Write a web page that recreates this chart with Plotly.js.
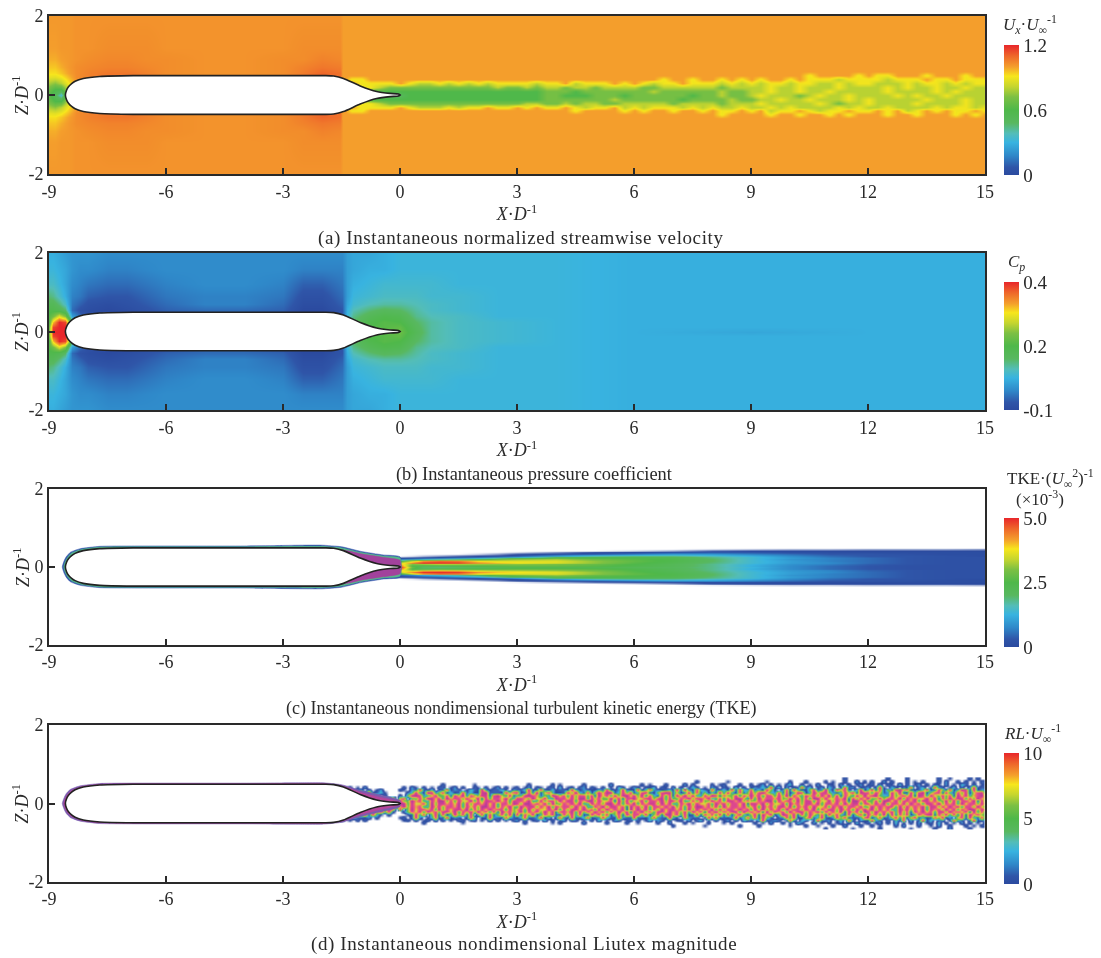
<!DOCTYPE html>
<html><head><meta charset="utf-8">
<script src="https://cdn.plot.ly/plotly-3.0.1.min.js"></script>
<style>html,body{margin:0;padding:0;background:#fff}#plot{width:1101px;height:958px;filter:blur(0.45px)}</style>
</head><body><div id="plot"></div>
<script>
// ---------- ticks ----------
const xTickVals=[-9,-6,-3,0,3,6,9,12,15];
const xTickLabels=['-9','-6','-3','0','3','6','9','12','15'];
const yTickVals=[-2,0,2];
const yTickLabels=['-2','0','2'];
const captions=['(a) Instantaneous normalized streamwise velocity','(b) Instantaneous pressure coefficient','(c) Instantaneous nondimensional turbulent kinetic energy (TKE)','(d) Instantaneous nondimensional Liutex magnitude'];

// ---------- hull outline (upper half, nose to tail) ----------
const hullX=[-8.58,-8.55,-8.5,-8.42,-8.33,-8.12,-7.7,-6.84,-4,-1.9,-1.7,-1.45,-1.02,-0.6,-0.25,-0.04,0];
const hullZ=[0,0.12,0.21,0.29,0.35,0.42,0.47,0.49,0.49,0.49,0.48,0.42,0.23,0.09,0.04,0.025,0];

// ---------- panel (a): Ux/Uinf, outer field ----------
const aX=[-9,-8.85,-8.7,-8.5,-8.3,-8,-7.5,-7,-6.5,-6,-5,-4,-3,-2.5,-2,-1.55,-1.45,-1,0,3,15];
const aZ=[2,1.2,0.9,0.7,0.55,0.45,0.3,0.15,0];
const aUpper=[
[1.01,1.01,1.01,1.01,1.02,1.02,1.02,1.02,1.02,1.02,1.02,1.02,1.02,1.02,1.02,1.02,1.00,1.00,1.00,1.00,1.00],
[1.00,1.00,1.01,1.01,1.02,1.02,1.03,1.03,1.03,1.02,1.02,1.02,1.02,1.03,1.03,1.03,1.00,1.00,1.00,1.00,1.00],
[0.98,0.98,1.00,1.01,1.02,1.03,1.04,1.04,1.03,1.03,1.02,1.02,1.03,1.03,1.05,1.04,1.00,1.00,1.00,1.00,1.00],
[0.95,0.95,0.98,1.01,1.03,1.04,1.05,1.05,1.04,1.03,1.02,1.02,1.03,1.05,1.07,1.06,1.00,1.00,1.00,1.00,1.00],
[0.92,0.92,0.95,1.00,1.03,1.05,1.07,1.07,1.05,1.03,1.02,1.02,1.03,1.06,1.10,1.08,1.00,1.00,1.00,1.00,1.00],
[0.88,0.87,0.90,0.97,1.03,1.05,1.07,1.07,1.05,1.03,1.02,1.02,1.03,1.06,1.10,1.08,1.00,1.00,1.00,1.00,1.00],
[0.78,0.74,0.80,0.92,1.00,1.04,1.05,1.05,1.04,1.03,1.02,1.02,1.03,1.05,1.08,1.06,1.00,1.00,1.00,1.00,1.00],
[0.68,0.60,0.60,0.85,1.00,1.02,1.02,1.02,1.02,1.02,1.02,1.02,1.02,1.02,1.02,1.02,1.00,1.00,1.00,1.00,1.00],
[0.62,0.52,0.35,0.80,1.00,1.02,1.02,1.02,1.02,1.02,1.02,1.02,1.02,1.02,1.02,1.02,1.00,1.00,1.00,1.00,1.00]];

// panel (a): wake, each character = Ux/Uinf x10 (a = 1.0); groups = first 6 columns, then one per X unit
const wakeAX=[-1.4,-1.25,-1,-0.75,-0.5,-0.25,0,0.25,0.5,0.75,1,1.25,1.5,1.75,2,2.25,2.5,2.75,3,3.25,3.5,3.75,4,4.25,4.5,4.75,5,5.25,5.5,5.75,6,6.25,6.5,6.75,7,7.25,7.5,7.75,8,8.25,8.5,8.75,9,9.25,9.5,9.75,10,10.25,10.5,10.75,11,11.25,11.5,11.75,12,12.25,12.5,12.75,13,13.25,13.5,13.75,14,14.25,14.5,14.75,15];
const wakeAZ=[0.6,0.5,0.4,0.3,0.2,0.1,0,-0.1,-0.2,-0.3,-0.4,-0.5,-0.6];
const wakeARows=[
"aaaaaa aaaa aaaa aaaa aaaa aaaa aaaa aaaa aaaa aaaa aaaa aaaa aaaa aaaa aaaa aaaa a",
"aaaaaa aaaa aaaa aaaa aaaa aaaa aaaa aaaa aaaa aaaa aaaa aa9a aaa9 a99a aa9a aa9a a",
"a99aaa aaaa aaaa aaaa aaaa aaaa aaaa aaa9 aa9a a9a9 a9aa 9a99 9899 9989 99a9 9a99 9",
"aa9999 a988 9898 9899 9989 9a89 99a9 a989 9a99 9898 9899 8998 8989 9888 9899 8989 9",
"a99987 7777 7777 7787 7878 8788 7888 8778 8888 8788 8898 8988 8988 8898 9889 8898 8",
"a98666 6666 6666 6666 6667 7767 7777 7787 7777 7877 8898 8988 9888 8898 8889 8988 8",
"a96665 5666 6666 6666 6667 7666 7776 7777 7767 7877 8988 8789 8898 8889 8988 9888 8",
"a98666 6666 6666 6666 6667 7777 7787 7777 7677 7787 7889 8898 8898 9888 8898 8898 8",
"a99987 7777 7777 7777 7887 7878 8778 8888 7888 8788 8988 8889 8788 9888 8988 8898 8",
"aa9999 a988 8989 9a99 a9a9 9a98 99a8 9899 9898 9889 8898 9888 8989 8898 8889 8998 9",
"a99aaa aaaa aaaa aaaa aaaa aa9a aaa9 a9aa 9aa9 a99a 9a89 9a98 99a9 9a9a 89a9 a99a 9",
"aaaaaa aaaa aaaa aaaa aaaa aaaa aaaa aaaa aaaa a9aa aa9a a9aa 9a9a aa9a a9aa a9a9 a",
"aaaaaa aaaa aaaa aaaa aaaa aaaa aaaa aaaa aaaa aaaa aaaa aaaa aaaa aaaa aaaa aaaa a"];

// ---------- panel (b): Cp x100 ----------
const bX=[-9,-8.9,-8.75,-8.6,-8.4,-8.2,-8,-7.5,-7,-6,-5,-4,-3,-2.5,-2,-1.5,-1.35,-1.2,-0.8,-0.4,0,0.4,0.8,1.5,2.5,4,6,9,12,15];
const bZ=[2,1.6,1.2,0.9,0.7,0.55,0.4,0.25,0.12,0];
const bUpper=[
[2,2,1,0,-1,-1,-1,-2,-2,-2,-2,-2,-2,-2,-2,-2,0,1,1,2,3,3,3,3,3,3,2,2,2,2],
[3,3,2,1,-1,-2,-2,-3,-3,-2,-2,-2,-2,-3,-3,-3,0,1,2,2,3,3,3,3,3,3,2,2,2,2],
[5,5,3,1,-2,-3,-4,-5,-5,-3,-2,-2,-3,-6,-6,-4,0,2,3,4,4,4,4,3,3,3,2,2,2,2],
[9,8,5,2,-3,-4,-6,-7,-7,-4,-3,-3,-4,-8,-8,-5,0,3,4,5,5,5,4,4,3,3,2,2,2,2],
[12,12,9,5,-4,-6,-8,-9,-8,-5,-3,-3,-5,-9,-9,-6,1,4,6,7,7,6,5,4,3,3,2,2,2,2],
[14,14,13,10,-5,-8,-9,-10,-9,-6,-5,-5,-6,-10,-10,-7,2,6,9,11,10,7,5,4,3,3,2,2,2,2],
[16,19,26,20,0,-5,-8,-10,-10,-8,-6,-6,-8,-10,-10,-7,3,8,12,14,13,8,6,5,3,3,2,2,2,2],
[16,30,40,38,10,0,-5,-8,-8,-8,-6,-6,-8,-8,-8,-6,5,10,14,16,15,10,7,5,4,3,2,2,2,2],
[19,38,40,40,20,5,0,-5,-6,-6,-6,-6,-6,-6,-6,-4,6,12,15,16,17,11,7,5,4,3,2,2,2,2],
[20,40,40,40,25,8,0,-5,-6,-6,-6,-6,-6,-6,-6,-4,6,12,15,16,18,12,7,5,4,3,2,1,2,2]];

// ---------- panel (c): TKE x10 (x1000) ----------
const cX=[0,0.3,0.6,1,1.5,2,2.5,3,4,5,6,7,8,9,10,11,12,13,14,15];
const cZ=[0.5,0.46,0.42,0.38,0.34,0.3,0.27,0.24,0.2,0.16,0.12,0.08,0.04,0];
const cUpper=[
[-10,-10,-10,-10,-10,-10,-10,-10,-10,-10,-10,-10,-10,-10,-10,-10,-10,-10,-10,-10],
[-10,-10,-10,-10,-10,-10,-10,-10,-10,-10,-10,-10,-9,-8,-7,-7,-6,-6,-6,-5],
[-10,-10,-10,-10,-10,-10,-10,-10,-10,-10,-8,-5,-1,0,0,0,0,0,0,0],
[-10,-10,-10,-10,-10,-10,-10,-9,-5,-1,0,1,2,2,1,1,1,1,1,1],
[-10,-10,-10,-10,-10,-8,-5,-1,1,3,6,9,9,7,5,3,3,2,1,1],
[-10,-9,-7,-5,-2,0,1,3,10,16,18,18,15,12,8,5,3,3,2,1],
[-6,-4,-2,0,1,3,6,11,20,23,23,22,18,14,9,6,4,3,2,2],
[0,1,3,5,8,12,17,22,26,25,24,23,19,14,10,7,5,3,2,2],
[5,8,12,15,18,22,27,30,32,28,26,24,20,14,9,7,5,3,2,2],
[24,34,42,45,44,38,36,36,36,31,27,24,20,14,10,7,5,3,2,2],
[35,44,50,50,49,43,40,38,36,31,26,23,19,14,10,8,5,3,2,2],
[40,30,32,34,33,32,31,31,30,28,25,22,18,13,9,7,4,3,2,2],
[45,25,22,23,24,25,26,27,27,26,24,22,18,12,8,5,3,2,2,2],
[50,28,20,19,20,21,22,23,23,23,22,21,18,13,8,5,3,2,2,2]];
// panel (c): boundary-layer outlines around the hull (upper half)
const blOuterX=[-8.66,-8.62,-8.56,-8.45,-8.2,-7.7,-6.8,-4,-2.5,-2,-1.5,-1,-0.43,0];
const blOuterZ=[0,0.14,0.26,0.38,0.47,0.53,0.54,0.54,0.56,0.56,0.52,0.40,0.31,0.26];
const blMidX=[-8.62,-8.59,-8.53,-8.42,-8.16,-7.7,-6.8,-4,-2.5,-2,-1.5,-1,-0.43,0];
const blMidZ=[0,0.12,0.24,0.36,0.45,0.51,0.52,0.52,0.53,0.53,0.49,0.37,0.28,0.23];
const blTailX=[-1.6,-1.3,-1,-0.43,0];
const blTailZ=[0.45,0.41,0.34,0.25,0.17];
// panel (d): hull-hugging layers
const dOuterZ=[0,0.13,0.25,0.36,0.45,0.51,0.52,0.52,0.53,0.53,0.48,0.33,0.2,0.08];
const dMidZ=[0,0.11,0.22,0.33,0.43,0.49,0.505,0.505,0.51,0.51,0.45,0.28,0.14,0.04];

// ---------- panel (d): Liutex, each character = value (a=10, b=11, c=12, d=13, .=none); X from -1.5 in steps of 0.1 ----------
const dX=Array.from({length:166},(_,i)=>+(i*0.1-1.5).toFixed(2));
const dZ=[0.63,0.56,0.49,0.42,0.35,0.28,0.21,0.14,0.07,0,-0.07,-0.14,-0.21,-0.28,-0.35,-0.42,-0.49,-0.56,-0.63];
const dRows=[
"............... .............................. .............................. .............................. ........................1..... .....1....1.......1..0....1.1. .",
"............... .............................. .............................. ................1.......0..... ....0.....1...1....1.0..1..2.1 .1..2.1...1.0.1...1.2..1.1.0.1 1",
"............... ...........1.......0.......... ...1.....1.0.....1......2..... ..1.0...1....2.1....1.01...1.. 1.02.1.0.13..1.0.2..10.2.1.02. 01.2.10.3.1.02.1.10.2.0.31.1.0 1",
"1.1.0.2........ .1.20.1.0.11.02.1..10.1.02.1.0 1.02.10.11.3.01.12.10.1.0.31.0 21.103.10.2.1.031.0.21.10.3.1. 02131c03.2.10b13.02.31.0c12.01 2.1c0.31.20b.13.0c21.03.1.2c01 1",
"31c012.1.02.... 10.21c103.01b021.0310c201130.2 113c01c1030110c30210031b102c10 0c03b210130c1d20b310c1130c1b32 b130c50.2b1c3005b12d30c7b1.3c0 3c1b051cd7b1013c02b51c03db1c02 2",
"bd1c3c1b0130... ..13c30dc25b0301b1300cd1110c5b c01b2d07b3001c5d31b05c7dd13c5b 13bc105bdc1702c1b15031d2c30b15 c5bd732b1c03cb03d7bc5213b7c1db b3c712c5d10c3bd05ab1c31b5c07bc 3",
"c7b4ccb3d5.1... 1.5cdb237c44b1c7d2b85cc1bd72c1 34cdb8152dc7b3c5bb4c1d7b3c5cd7 c5d2b31c4b1c7d5c32b7dc1b55c2b7 d7c3bb4c5d1b73c8b5c7d3c1b72c5d 7bd432c58b7c1db3c75c4b1d7c38bd 5",
"cc7d4b5c37bc5c. 7c.44b5dd7c3d8bb5c77d1c4bb7d53 cc85d77c32dbb7c5dd3c7b44d5c1bb d77cc5bd3c44b8d5cc7d32c2b5dd71 c3d7bb8c55d7c4b3dd5c77b8d1c5b7 d44c5bb7d3c8b77d5c1b4d7cc3b5d8 7",
"b5c88d7c3bb7c47 c55d8b33c7dd5b4c77d3b5cc8d7b3c bb7d33c4bb5d7cc3b8dd5c77b1d4c3 77c3bb8d5cc7d33b4c55d7b3cc8d5b 55b8dd3c7bb5d4cc3b77d5c8b1dd7c 44b3dd7c5bb8d3cc7b55d4c3bb7d1c 4",
"c7d4bb5c3d7c5b7 dd4c77b3d5cc8b7d3c5bb8d7c3bb5d c5dd8b7c3d55b8c7d33c8b5dd7c3b8 d3b8cc5d7c33b8d5c77b3d8c5bb7d1 cc8d5b77c3d8b5cc7d3bb8c5d7cc3b b5c8d3bb7c5d8b3cc7d5b8c3d7bb5c 6",
"b5c7d8c3bb7d5c8 7d5c8b33d7c5bb8d3c7b5dd8c3b7d5 3d8cc5b7d3c8bb5d7c33b8d5cc7b1d 8c5d3bb7c8d5b3c7dd8b5c3d7bb8c5 7c3d8b5cc7d3b8c5d77b3c8d5bb7c3 5d7c8bb3d5c7b8d3cc5b7d8c3bb5d7 5",
"d3b7c8d5c7b3d8. c.5d7bb8c3d5b7cc8d3b5c7d8bb3c5 8c3d5b77c8d3b5cc7d8b3c5d7b8c1d 7d8c3b5d7cc8b3d5c7b8d3c5bb7d8c 3c7d5b8c3d7bb5c8d3b7cc5d8b3c7d 8d5c7b33d8c5b7d3c8b5d7c3b8dd5c 8",
"c5b7c8d3b7c5b1. .15b7c3d8b5cc7d3b8c5d7b3c1d8b5 7d3b8c5d7c1bb8d3c5b7d8c3b5d7c1 c8d5b3cc7d8b5c3d7b1c8d5b7cc3d8 b7c1d5c8b3d7cc5b8d3c7b5d1c8b3d c5d8b7c3d5b1c8d7b3cc5d8b7c1d3b 3",
"b0c3b5c1b30.1.. ..01c3b.5c1b03c5b1c.3b0c15b3c0 c1b5c03b7c11b5c3b01c7b3c05b1c7 bb3c05b1cd7b3c01b1c5b3c1b07c31 5c1d7c03db5c1b3c72b1c5b31c07b1 c7b3d1c2b5c03b7cd1b5c3b2c1d7b5 5",
"1c031102.1..... 01.1c2.03b11c021.1b3.01c210b31 03b112c03.1b20c113b012c310b211 c1103b211c30.b211.0c3b1102c13b 3b0c51.12b3c007b13c102b5c1103b c03b115c2b07c1301b5c02.7b1c31b 3",
"1.0.1.1........ .01.1.01.2.1.0.11.01.0.2.1.0.1 2.1.01.3.1.02.11.0.1.3.0.21.01 .1.03.21.1.01.2.13.0.1.02.1.31 1.3c0121.0b2.31.0c112.03.b1.20 0c21.1.30b.2.1c03.12.0b31.1c01 2",
"............... ......1.........0............. ..1......0.1.....2.....1....1. .0....1..2...1.0...1...0.1.... .1.0.2..1.0.31..2.0.1.02.1.3.0 1.02.1.3.0.1.2.01.3.1.0.2.1.0. 2",
"............... .............................. .............................. ..........1.......0........1.. ..1.......0...1..0...1..2...1. .1.0...1.2...1..0.2..1...1.0.1 1",
"............... .............................. .............................. .............................. ...................1......0... ...1.......0.....1...2....1... ."];

// ---------- colours ----------
const rainbow=[[0,'#2b4a9f'],[0.06,'#2f55a8'],[0.15,'#2f88c9'],[0.25,'#38b3e0'],[0.32,'#53bdb8'],[0.4,'#58b860'],[0.5,'#4fb84a'],[0.6,'#7cc043'],[0.68,'#c5d52f'],[0.76,'#f7e61c'],[0.83,'#f4a02c'],[0.92,'#ee642a'],[1,'#e8262b']];
const dStops=[[-1.5,'#ffffff'],[0,'#2b4a9f'],[1,'#3a5fb0'],[2.5,'#38b3e0'],[4,'#58b860'],[5.5,'#7cc043'],[7,'#d8d83a'],[8.5,'#ee8a50'],[10,'#e8508a'],[12,'#cf3f92'],[14,'#8f3fa0']];
function extended(zmin,lo,hi,zmax,tail){
  const f=v=>(v-zmin)/(zmax-zmin);
  const s=[[0,'#ffffff']];
  rainbow.forEach(([p,c])=>s.push([f(lo+p*(hi-lo)),c]));
  tail.forEach(([v,c])=>s.push([f(v),c]));
  return s;
}
const mirror=rows=>rows.concat(rows.slice(0,-1).reverse());
const mirrorNeg=z=>z.concat(z.slice(0,-1).reverse().map(v=>-v));
const closed=(x,z)=>({x:x.concat(x.slice().reverse()),y:z.concat(z.slice().reverse().map(v=>-v))});
const decode=(rows,f)=>rows.map(r=>r.replace(/ /g,'').split('').map(f));

const serif='Liberation Serif, Times New Roman, serif';
const ink='#2a2a2a';
const W=1101,H=958;
const panels=[{t:16,b:174},{t:253,b:410},{t:489,b:645},{t:725,b:882}];
const capY=[238,474,708,944];
const capX=[520.5,533.5,521,524];
const capSpacing=[0.6,0,0,0.6];
const capSize=[19,18.4,18,19];
const zTitleX=21;
const barTop=[45,282,518,753];
const barLen=[130,128,129,131];

function cbar(i,vals,text){
  return {x:1004/W,xanchor:'left',xpad:0,y:1-barTop[i]/H,yanchor:'top',ypad:0,lenmode:'pixels',len:barLen[i],
    thickness:15,thicknessmode:'pixels',outlinewidth:0,ticks:'',tickmode:'array',tickvals:vals,ticktext:text,
    tickfont:{family:serif,size:19,color:ink},ticklabelposition:'outside'};
}
const ax=i=>i===0?{xaxis:'x',yaxis:'y'}:{xaxis:'x'+(i+1),yaxis:'y'+(i+1)};
function hullTrace(i,w){const c=closed(hullX,hullZ);return Object.assign({type:'scatter',mode:'lines',x:c.x,y:c.y,fill:'toself',fillcolor:'#ffffff',line:{color:'#222',width:w||1.6,shape:'spline',smoothing:0.5},hoverinfo:'skip',showlegend:false},ax(i));}
function layer(i,xs,zs,color){const c=closed(xs,zs);return Object.assign({type:'scatter',mode:'lines',x:c.x,y:c.y,fill:'toself',fillcolor:color,line:{color:color,width:0.5,shape:'spline',smoothing:0.5},hoverinfo:'skip',showlegend:false},ax(i));}
function colorbarOnly(i,lo,hi,vals,text){return Object.assign({type:'scatter',mode:'markers',x:[null],y:[null],hoverinfo:'skip',showlegend:false,
   marker:{color:[lo],cmin:lo,cmax:hi,colorscale:rainbow,showscale:true,colorbar:cbar(i,vals,text),opacity:0}},ax(i));}

const traces=[];
// (a)
traces.push(Object.assign({type:'heatmap',x:aX,y:mirrorNeg(aZ),z:mirror(aUpper),zmin:0,zmax:1.2,zsmooth:'best',colorscale:rainbow,colorbar:cbar(0,[0,0.6,1.2],['0','0.6','1.2'])},ax(0)));
traces.push(Object.assign({type:'heatmap',x:wakeAX,y:wakeAZ,z:decode(wakeARows,c=>parseInt(c,36)/10),zmin:0,zmax:1.2,zsmooth:'best',colorscale:rainbow,showscale:false},ax(0)));
traces.push(hullTrace(0));
// (b)
traces.push(Object.assign({type:'heatmap',x:bX,y:mirrorNeg(bZ),z:mirror(bUpper).map(r=>r.map(v=>v/100)),zmin:-0.1,zmax:0.4,zsmooth:'best',colorscale:rainbow,colorbar:cbar(1,[-0.1,0.15,0.4],['-0.1','0.2','0.4'])},ax(1)));
traces.push(hullTrace(1));
// (c)
traces.push(Object.assign({type:'heatmap',x:cX,y:mirrorNeg(cZ),z:mirror(cUpper).map(r=>r.map(v=>v/10)),zmin:-1,zmax:8,zsmooth:'best',showscale:false,
  colorscale:extended(-1,0,5,8,[[6,'#c0308f'],[8,'#8a3a9a']])},ax(2)));
traces.push(layer(2,blOuterX,blOuterZ,'#3555ad'));
traces.push(layer(2,blMidX,blMidZ,'#55b98a'));
traces.push(layer(2,blTailX,blTailZ,'#a2429c'));
traces.push(hullTrace(2));
traces.push(colorbarOnly(2,0,5,[0,2.5,5],['0','2.5','5.0']));
// (d)
traces.push(Object.assign({type:'heatmap',x:dX,y:dZ,z:decode(dRows,c=>c==='.'?-1.5:parseInt(c,36)),zmin:-1.5,zmax:14,zsmooth:'best',showscale:false,
  colorscale:dStops.map(([v,c])=>[(v+1.5)/15.5,c])},ax(3)));
traces.push(layer(3,blOuterX,dOuterZ,'#7a5cae'));
traces.push(layer(3,blMidX,dMidZ,'#b5479b'));
traces.push(hullTrace(3));
traces.push(colorbarOnly(3,0,10,[0,5,10],['0','5','10']));

const layout={width:W,height:H,margin:{l:0,r:0,t:0,b:0},paper_bgcolor:'#fff',plot_bgcolor:'#fff',showlegend:false,font:{family:serif,size:18,color:ink},annotations:[]};
panels.forEach((p,i)=>{
  const n=i===0?'':String(i+1);
  const lw=i<2?2:1.6;
  layout['xaxis'+n]={anchor:'y'+n,domain:[49/W,985/W],range:[-9,15],tickmode:'array',tickvals:xTickVals,ticktext:xTickLabels,ticks:'inside',ticklen:6,tickwidth:1.5,tickcolor:ink,
    showline:true,mirror:true,linecolor:ink,linewidth:lw,showgrid:false,zeroline:false,tickfont:{family:serif,size:18,color:ink},
    title:{text:'<i>X</i>·<i>D</i><sup>-1</sup>',font:{family:serif,size:18,color:ink},standoff:2}};
  layout['yaxis'+n]={anchor:'x'+n,domain:[1-p.b/H,1-p.t/H],range:[-2,2],tickmode:'array',tickvals:yTickVals,ticktext:yTickLabels,ticks:'inside',ticklen:6,tickwidth:1.5,tickcolor:ink,
    showline:true,mirror:true,linecolor:ink,linewidth:lw,showgrid:false,zeroline:false,tickfont:{family:serif,size:18,color:ink}};
  layout.annotations.push({xref:'paper',yref:'paper',x:zTitleX/W,y:1-(p.t+p.b)/2/H,xanchor:'center',yanchor:'middle',textangle:-90,showarrow:false,text:'<i>Z</i>·<i>D</i><sup>-1</sup>',font:{family:serif,size:18,color:ink}});
  layout.annotations.push({xref:'paper',yref:'paper',x:capX[i]/W,y:1-capY[i]/H,xanchor:'center',yanchor:'middle',showarrow:false,
    text:'<span style="letter-spacing:'+capSpacing[i]+'px">'+captions[i]+'</span>',font:{family:serif,size:capSize[i],color:ink}});
});
const barTitles=[
  ['<i>U<sub>x</sub></i>·<i>U</i><sub>∞</sub><sup>-1</sup>',1030,24],
  ['<i>C<sub>p</sub></i>',1016,263],
  ['TKE·(<i>U</i><sub>∞</sub><sup>2</sup>)<sup>-1</sup>',1050,478],
  ['(×10<sup>-3</sup>)',1040,498],
  ['<i>RL</i>·<i>U</i><sub>∞</sub><sup>-1</sup>',1032,733]];
barTitles.forEach(([t,x,y])=>layout.annotations.push({xref:'paper',yref:'paper',x:x/W,y:1-y/H,xanchor:'center',yanchor:'middle',showarrow:false,text:t,font:{family:serif,size:17,color:ink}}));

Plotly.newPlot('plot',traces,layout,{displayModeBar:false,responsive:false});
</script></body></html>
